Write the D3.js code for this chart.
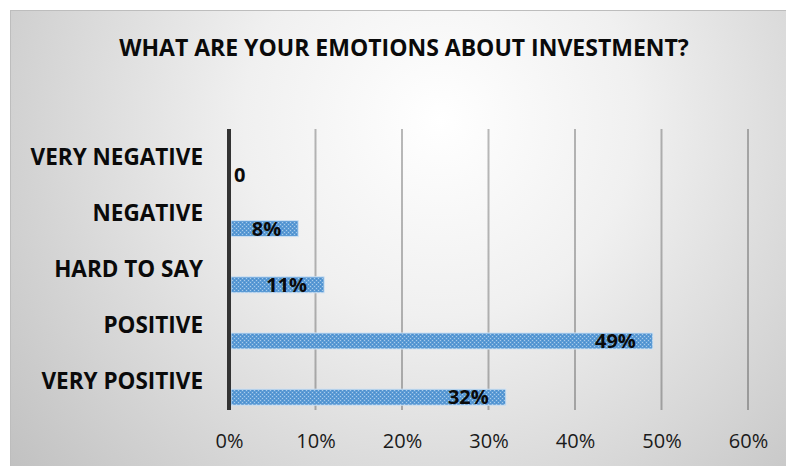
<!DOCTYPE html>
<html>
<head>
<meta charset="utf-8">
<script src="https://cdn.jsdelivr.net/npm/d3@7"></script>
<style>
  html, body { margin: 0; padding: 0; background: #ffffff; }
  svg { display: block; }
  text { font-family: "Open Sans", "Noto Sans", sans-serif; }
</style>
</head>
<body>
<svg id="chart" width="786" height="466"></svg>
<script>
// Survey answers, top row first
const categories = ["VERY NEGATIVE", "NEGATIVE", "HARD TO SAY", "POSITIVE", "VERY POSITIVE"];
const shares = [0, 0.08, 0.11, 0.49, 0.32];
const shareLabels = ["0", "8%", "11%", "49%", "32%"];
const tickValues = [0, 0.1, 0.2, 0.3, 0.4, 0.5, 0.6];
const titleText = "WHAT ARE YOUR EMOTIONS ABOUT INVESTMENT?";

const W = 786, H = 466;
const svg = d3.select("#chart");
const defs = svg.append("defs");

// Soft radial backdrop: bright near the title, grey toward the edges
const bg = defs.append("radialGradient")
  .attr("id", "bgGrad")
  .attr("gradientUnits", "userSpaceOnUse")
  .attr("cx", 440).attr("cy", 120).attr("r", 560);
bg.append("stop").attr("offset", "0%").attr("stop-color", "#ffffff");
bg.append("stop").attr("offset", "35%").attr("stop-color", "#f0f0f0");
bg.append("stop").attr("offset", "100%").attr("stop-color", "#c0c0c0");

// Speckled blue fill for the bars
const pat = defs.append("pattern")
  .attr("id", "barFill")
  .attr("patternUnits", "userSpaceOnUse")
  .attr("width", 4).attr("height", 4);
pat.append("rect").attr("width", 4).attr("height", 4).attr("fill", "#5b9bd5");
pat.append("rect").attr("x", 0).attr("y", 0).attr("width", 1).attr("height", 1).attr("fill", "#a9cbea");
pat.append("rect").attr("x", 2).attr("y", 2).attr("width", 1).attr("height", 1).attr("fill", "#a9cbea");
pat.append("rect").attr("x", 2).attr("y", 0).attr("width", 1).attr("height", 1).attr("fill", "#4c8ccb");
pat.append("rect").attr("x", 0).attr("y", 2).attr("width", 1).attr("height", 1).attr("fill", "#4c8ccb");

// Chart area
svg.append("rect")
  .attr("x", 10.5).attr("y", 10.5)
  .attr("width", W).attr("height", H)
  .attr("fill", "url(#bgGrad)")
  .attr("stroke", "#bdbdbd").attr("stroke-width", 1);

// Title
svg.append("text")
  .attr("x", 404).attr("y", 56)
  .attr("text-anchor", "middle")
  .attr("font-weight", 700)
  .attr("font-size", 23)
  .attr("fill", "#0a0a0a")
  .text(titleText);

// Scales
const x = d3.scaleLinear().domain([0, 0.6]).range([229, 748]);
const y = d3.scaleBand().domain(categories).range([129, 410]).paddingInner(0).paddingOuter(0);
const barH = 16;
const barOffset = 7.3; // bars sit just below each category's centre line
const barTop = c => y(c) + y.bandwidth() / 2 + barOffset;

// Vertical gridlines
svg.append("g")
  .selectAll("line")
  .data(tickValues.filter(d => d > 0))
  .join("line")
  .attr("x1", d => x(d)).attr("x2", d => x(d))
  .attr("y1", 129).attr("y2", 410)
  .attr("stroke", "rgba(0,0,0,0.27)")
  .attr("stroke-width", 2);

// Bottom axis labels (no domain line or ticks)
const xAxis = d3.axisBottom(x)
  .tickValues(tickValues)
  .tickFormat(d3.format(".0%"))
  .tickSize(0)
  .tickPadding(0);
const gx = svg.append("g").attr("transform", "translate(0,433)").call(xAxis);
gx.select(".domain").remove();
gx.selectAll("text")
  .attr("dy", null)
  .attr("y", 15)
  .attr("font-family", "\"Open Sans\", sans-serif")
  .attr("font-size", 20)
  .attr("fill", "#1a1a1a");

// Bars
const rows = categories.map((c, i) => ({ cat: c, v: shares[i], label: shareLabels[i] }));
svg.append("g")
  .selectAll("rect")
  .data(rows.filter(d => d.v > 0))
  .join("rect")
  .attr("x", x(0) + 2)
  .attr("y", d => barTop(d.cat))
  .attr("width", d => x(d.v) - x(0) - 2)
  .attr("height", barH)
  .attr("fill", "url(#barFill)")
  .attr("stroke", "#cfe2f3")
  .attr("stroke-width", 1);

// Vertical category axis line
svg.append("line")
  .attr("x1", x(0)).attr("x2", x(0))
  .attr("y1", 129).attr("y2", 410)
  .attr("stroke", "#333333")
  .attr("stroke-width", 4);

// Category labels
svg.append("g")
  .selectAll("text")
  .data(categories)
  .join("text")
  .attr("x", 203)
  .attr("y", d => y(d) + y.bandwidth() / 2 + 7.5)
  .attr("text-anchor", "end")
  .attr("font-weight", 700)
  .attr("font-size", 22.5)
  .attr("fill", "#0a0a0a")
  .text(d => d);

// Value labels, placed inside the end of each bar
svg.append("g")
  .selectAll("text")
  .data(rows)
  .join("text")
  .attr("x", d => d.v > 0 ? x(d.v) - 17 : x(0) + 5)
  .attr("y", d => barTop(d.cat) + barH / 2 + 7 + (d.v > 0 ? 0 : 3))
  .attr("text-anchor", d => d.v > 0 ? "end" : "start")
  .attr("font-weight", 700)
  .attr("font-size", 20)
  .attr("fill", "#0a0a0a")
  .text(d => d.label);
</script>
</body>
</html>
